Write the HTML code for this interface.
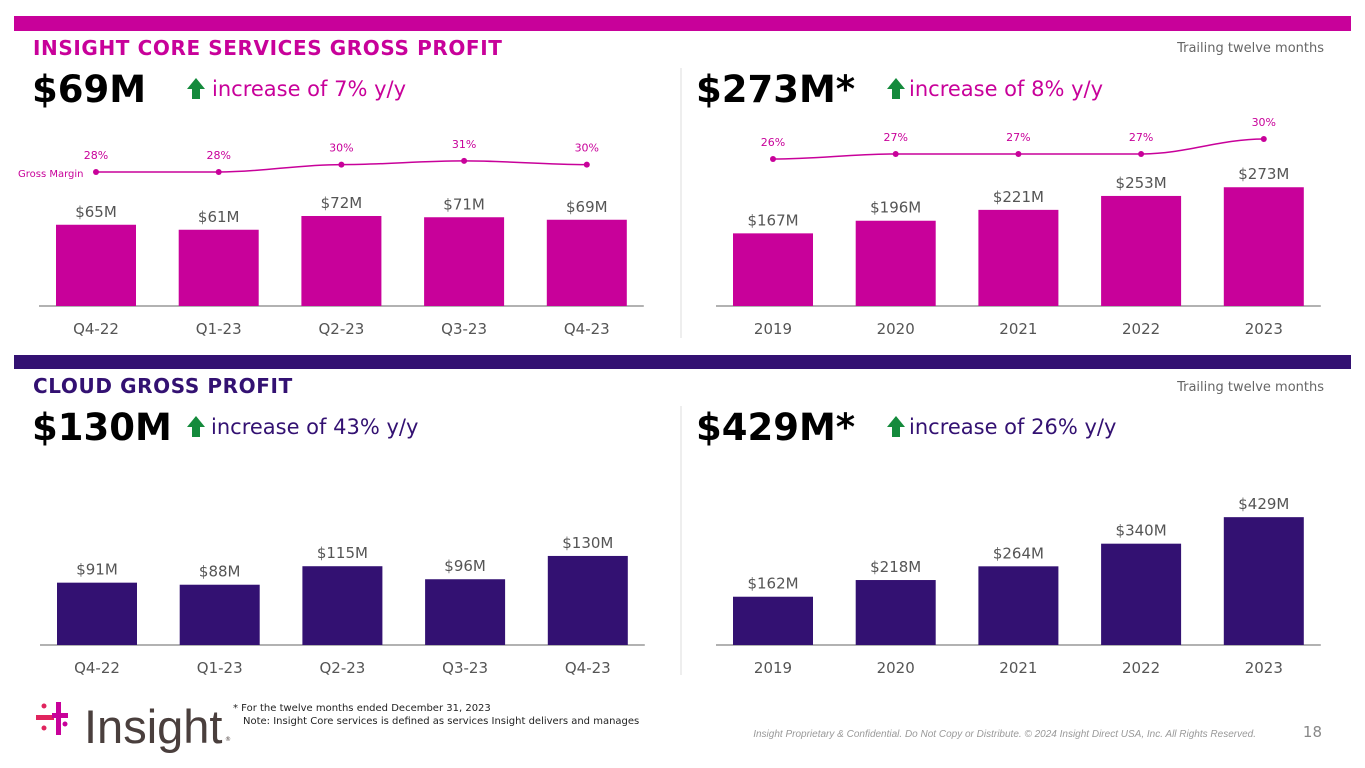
<!DOCTYPE html>
<html><head><meta charset="utf-8"><style>
body{margin:0;width:1365px;height:768px;background:#fff;overflow:hidden;font-family:"DejaVu Sans","Liberation Sans",sans-serif;}
svg{position:absolute;left:0;top:0}
</style></head><body>
<svg id="s" width="1365" height="768">
<rect x="14" y="16" width="1337" height="15" fill="#c8019a"/>
<rect x="14" y="355" width="1337" height="14" fill="#331172"/>
<text x="33" y="55" font-size="20" font-weight="bold" fill="#c8019a" letter-spacing="0.6">INSIGHT CORE SERVICES GROSS PROFIT</text>
<text x="33" y="393" font-size="20" font-weight="bold" fill="#331172" letter-spacing="0.6">CLOUD GROSS PROFIT</text>
<text x="1324" y="52" font-size="13" fill="#666" text-anchor="end">Trailing twelve months</text>
<text x="1324" y="391" font-size="13" fill="#666" text-anchor="end">Trailing twelve months</text>
<line x1="681" y1="68" x2="681" y2="338" stroke="#ddd"/>
<line x1="681" y1="406" x2="681" y2="675" stroke="#ddd"/>
<text x="32" y="102" font-size="37" font-weight="bold" fill="#000">$69M</text>
<text x="696" y="102" font-size="37" font-weight="bold" fill="#000">$273M*</text>
<text x="32" y="440" font-size="37" font-weight="bold" fill="#000">$130M</text>
<text x="696" y="440" font-size="37" font-weight="bold" fill="#000">$429M*</text>
<g>
<path d="M187 89 l9 -11 l9 11 h-5 v10 h-8 v-10z" fill="#148a3c"/>
<path d="M887 89 l9 -11 l9 11 h-5 v10 h-8 v-10z" fill="#148a3c"/>
<path d="M187 427 l9 -11 l9 11 h-5 v10 h-8 v-10z" fill="#148a3c"/>
<path d="M887 427 l9 -11 l9 11 h-5 v10 h-8 v-10z" fill="#148a3c"/>
</g>
<text x="212" y="96" font-size="21" fill="#c8019a">increase of 7% y/y</text>
<text x="909" y="96" font-size="21" fill="#c8019a">increase of 8% y/y</text>
<text x="211" y="434" font-size="21" fill="#331172">increase of 43% y/y</text>
<text x="909" y="434" font-size="21" fill="#331172">increase of 26% y/y</text>
<text x="18" y="177" font-size="10" fill="#c8019a">Gross Margin</text>
<g>
<circle cx="44" cy="706" r="2.5" fill="#e0245e"/><circle cx="44" cy="728" r="2.5" fill="#e0245e"/>
<rect x="36" y="715" width="18" height="5" fill="#e0245e"/>
<rect x="56" y="702" width="5" height="33" fill="#c8019a"/><rect x="52" y="713" width="16" height="5" fill="#c8019a"/>
<circle cx="65" cy="724" r="2.5" fill="#c8019a"/>
<text x="84" y="743" font-size="47" fill="#4a3f3d" font-family="Liberation Sans, sans-serif">Insight</text>
<text x="225" y="741" font-size="6" fill="#4a3f3d">®</text>
</g>
<text x="233" y="711" font-size="10" fill="#222">* For the twelve months ended December 31, 2023</text>
<text x="243" y="724" font-size="10" fill="#222">Note: Insight Core services is defined as services Insight delivers and manages</text>
<text x="1256" y="737" font-size="10" font-style="italic" fill="#999" text-anchor="end" font-family="Liberation Sans, sans-serif">Insight Proprietary &amp; Confidential. Do Not Copy or Distribute. © 2024 Insight Direct USA, Inc. All Rights Reserved.</text>
<text x="1322" y="737" font-size="15" fill="#888" text-anchor="end">18</text>
</svg>
<script>
const quarters=["Q4-22","Q1-23","Q2-23","Q3-23","Q4-23"];
const years=["2019","2020","2021","2022","2023"];
const coreQ=[65,61,72,71,69];
const coreQMargin=[28,28,30,31,30];
const coreY=[167,196,221,253,273];
const coreYMargin=[26,27,27,27,30];
const cloudQ=[91,88,115,96,130];
const cloudY=[162,218,264,340,429];
const S=document.getElementById('s');
const NS='http://www.w3.org/2000/svg';
function mk(t,a){const e=document.createElementNS(NS,t);for(const k in a)e.setAttribute(k,a[k]);S.appendChild(e);return e;}
function chart(name,cats,vals,x0,base,scale,color,margins,mBase,mScale){
  const xs=i=>x0+i*122.7;
  const ax=mk('line',{x1:x0-57,x2:xs(4)+57,y1:base,y2:base,stroke:'#999','stroke-width':1.5});
  
  
  vals.forEach((v,i)=>{
    const h=v*scale;
    const r=mk('rect',{x:xs(i)-40,y:base-h,width:80,height:h,fill:color});
    
    
    const t=mk('text',{x:xs(i),y:base-h-8,'font-size':15,fill:'#555','text-anchor':'middle'});
    t.textContent='$'+v+'M';
    
    
    const c=mk('text',{x:xs(i),y:base+28,'font-size':15,fill:'#555','text-anchor':'middle'});
    c.textContent=cats[i];
    
    
  });
  if(margins){
    const my=m=>mBase-(m-margins[0])*mScale;
    let d='';
    margins.forEach((m,i)=>{
      const x=xs(i),y=my(m);
      if(i===0)d='M'+x+' '+y;else{const px=xs(i-1),py=my(margins[i-1]);d+=' C'+(px+45)+' '+py+' '+(x-45)+' '+y+' '+x+' '+y;}
    });
    const p=mk('path',{d:d,fill:'none',stroke:'#c8019a','stroke-width':1.5});
    
    
    margins.forEach((m,i)=>{
      const c=mk('circle',{cx:xs(i),cy:my(m),r:3,fill:'#c8019a'});
      
      
      const t=mk('text',{x:xs(i),y:my(m)-13,'font-size':11,fill:'#c8019a','text-anchor':'middle'});
      t.textContent=m+'%';
      
      
    });
  }
}
chart('core-quarterly',quarters,coreQ,96,306,1.25,'#c8019a',coreQMargin,172,3.7);
chart('core-ttm',years,coreY,773,306,0.435,'#c8019a',coreYMargin,159,5);
chart('cloud-quarterly',quarters,cloudQ,97,645,0.685,'#331172',null);
chart('cloud-ttm',years,cloudY,773,645,0.298,'#331172',null);
</script>
</body></html>
